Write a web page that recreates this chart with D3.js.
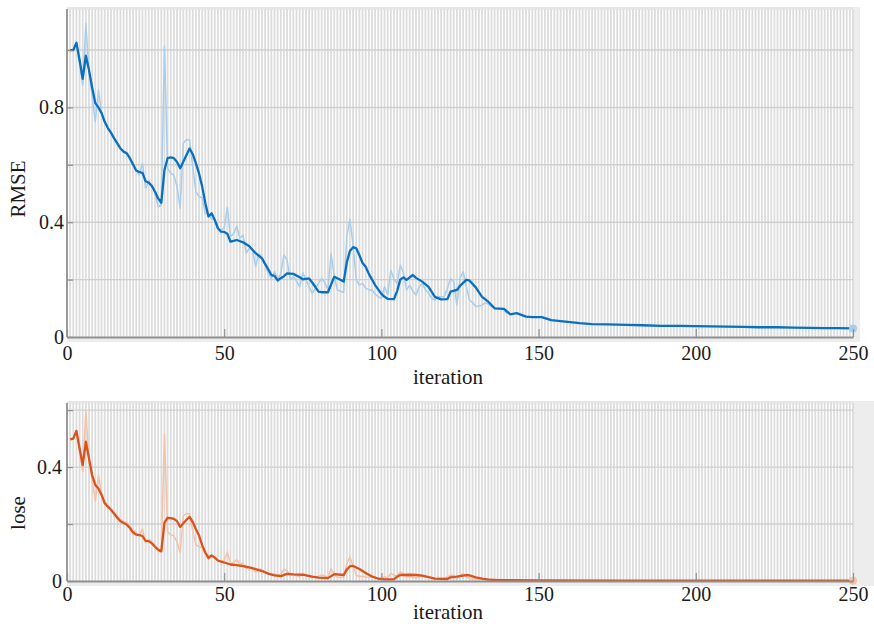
<!DOCTYPE html>
<html>
<head>
<meta charset="utf-8">
<script src="https://cdn.jsdelivr.net/npm/d3@7"></script>
<style>
  body { margin: 0; background: #fff; }
  svg { display: block; }
  svg text { font-family: "Liberation Serif", "Times New Roman", serif !important; }
</style>
</head>
<body>
<svg id="chart" width="874" height="626"></svg>
<script>
// raw values, one per iteration starting at 1
const rmseRaw = [1.00,1.00,1.03,0.95,0.878,1.093,0.92,0.84,0.75,0.86,
  0.78,0.745,0.73,0.71,0.69,0.675,0.657,0.646,0.64,0.62,
  0.60,0.58,0.565,0.605,0.518,0.54,0.525,0.50,0.454,0.46,
  1.014,0.588,0.57,0.564,0.524,0.448,0.675,0.688,0.686,0.593,
  0.506,0.489,0.485,0.431,0.43,0.41,0.41,0.375,0.373,0.38,
  0.452,0.35,0.36,0.387,0.344,0.355,0.292,0.31,0.303,0.245,
  0.29,0.28,0.25,0.222,0.204,0.228,0.20,0.22,0.286,0.268,
  0.201,0.21,0.195,0.175,0.224,0.20,0.175,0.152,0.17,0.187,
  0.204,0.19,0.164,0.292,0.21,0.164,0.16,0.155,0.35,0.41,
  0.32,0.199,0.181,0.187,0.17,0.164,0.164,0.15,0.14,0.135,
  0.175,0.147,0.233,0.20,0.187,0.251,0.224,0.164,0.18,0.16,
  0.146,0.175,0.187,0.165,0.152,0.135,0.129,0.14,0.14,0.14,
  0.17,0.204,0.193,0.111,0.204,0.228,0.178,0.129,0.12,0.106,
  0.108,0.111,0.12,0.115,0.106,0.10,0.099,0.098,0.095,0.08];

const loseRaw = [0.50,0.50,0.53,0.451,0.385,0.597,0.423,0.353,0.281,0.37,
  0.304,0.278,0.266,0.252,0.238,0.228,0.216,0.209,0.205,0.192,
  0.18,0.168,0.16,0.183,0.134,0.146,0.138,0.125,0.103,0.106,
  0.514,0.173,0.162,0.159,0.137,0.10,0.228,0.237,0.235,0.176,
  0.128,0.12,0.118,0.093,0.092,0.084,0.084,0.07,0.07,0.072,
  0.102,0.061,0.065,0.075,0.059,0.063,0.043,0.048,0.046,0.03,
  0.042,0.039,0.031,0.025,0.021,0.026,0.02,0.024,0.041,0.036,
  0.02,0.022,0.019,0.015,0.025,0.02,0.015,0.012,0.014,0.017,
  0.021,0.018,0.013,0.043,0.022,0.013,0.013,0.012,0.061,0.084,
  0.051,0.02,0.016,0.017,0.014,0.013,0.013,0.011,0.01,0.009,
  0.015,0.011,0.027,0.02,0.017,0.032,0.025,0.013,0.016,0.013,
  0.011,0.015,0.017,0.014,0.012,0.009,0.008,0.01,0.01,0.01,
  0.014,0.021,0.019,0.006,0.021,0.026,0.016,0.008,0.007,0.006,
  0.006,0.006,0.007,0.007,0.006,0.005,0.005,0.005,0.005,0.003];

// smoothed curves
const rmseSmoothIter = [1,2,3,4,5,6,7,8,9,10,11,12,13,14,15,16,17,18,19,20,21,22,23,24,25,26,27,28,29,30,
  31,32,33,34,35,36,37,38,39,40,41,42,43,44,45,46,47,48,49,50,51,52,53,54,
  56,58,60,62,63,64,65,66,67,68,69,70,
  72,74,75,77,78,80,81,83,85,86,88,89,90,91,92,93,94,95,96,98,
  100,101,102,104,105,106,107,108,110,111,113,115,117,119,121,122,124,125,127,128,
  130,132,134,136,139,141,143,146,148,151,154,157,163,167,172,178,183,189,195,199,
  205,210,215,220,226,231,236,241,245,250];
const rmseSmooth = [1.00,1.00,1.025,0.965,0.90,0.98,0.93,0.87,0.815,0.80,0.78,0.75,0.728,0.712,0.692,0.675,0.657,0.646,0.64,0.623,
  0.602,0.58,0.575,0.572,0.543,0.538,0.526,0.506,0.483,0.468,0.582,0.623,0.626,0.623,0.61,0.588,0.611,0.634,0.657,0.637,
  0.605,0.57,0.524,0.466,0.42,0.431,0.408,0.379,0.367,0.366,0.36,0.332,0.335,0.338,
  0.33,0.316,0.292,0.274,0.255,0.236,0.216,0.213,0.197,0.205,0.212,0.222,
  0.22,0.208,0.201,0.204,0.19,0.158,0.156,0.156,0.21,0.205,0.193,0.26,0.30,0.313,0.309,0.285,0.258,0.245,0.22,0.181,
  0.15,0.14,0.133,0.132,0.16,0.20,0.208,0.199,0.216,0.206,0.193,0.175,0.14,0.131,0.132,0.158,0.164,0.178,0.199,0.197,
  0.173,0.14,0.123,0.10,0.098,0.079,0.083,0.071,0.069,0.069,0.059,0.055,0.048,0.045,0.044,0.042,0.041,0.039,0.039,0.038,
  0.037,0.036,0.035,0.034,0.034,0.033,0.032,0.031,0.031,0.030];

const loseSmoothIter = [1,2,3,4,5,6,7,8,9,10,11,12,13,14,15,16,17,18,19,20,21,22,23,24,25,26,27,28,29,30,
  31,32,33,34,35,36,37,38,39,40,41,42,43,44,45,46,47,48,49,50,
  52,54,56,58,60,62,64,66,68,70,
  72,75,78,80,83,85,88,89,90,91,
  93,95,97,99,101,104,105,106,109,111,
  113,115,117,121,122,124,127,128,130,132,
  134,137,140,150,175,200,225,250];
const loseSmooth = [0.497,0.50,0.527,0.466,0.407,0.489,0.43,0.372,0.337,0.325,0.302,0.273,0.261,0.25,0.236,0.222,0.21,0.204,0.198,0.186,
  0.17,0.163,0.161,0.158,0.141,0.14,0.132,0.12,0.11,0.104,0.205,0.222,0.221,0.218,0.21,0.19,0.203,0.215,0.225,0.207,
  0.182,0.16,0.125,0.10,0.08,0.09,0.082,0.072,0.068,0.065,
  0.058,0.056,0.052,0.048,0.042,0.035,0.026,0.02,0.017,0.025,
  0.023,0.022,0.015,0.012,0.01,0.024,0.021,0.04,0.052,0.053,
  0.042,0.028,0.016,0.008,0.006,0.006,0.015,0.021,0.022,0.021,
  0.019,0.014,0.008,0.007,0.013,0.015,0.021,0.02,0.013,0.008,
  0.005,0.003,0.003,0.002,0.001,0.001,0.001,0.001];

const xTicks = [0, 50, 100, 150, 200, 250];
const rmseTicks = [0, 0.2, 0.4, 0.6, 0.8, 1.0];
const rmseLabels = [0, 0.4, 0.8];
const loseTicks = [0, 0.2, 0.4, 0.6];
const loseLabels = [0, 0.4];

const FONT = '"Liberation Serif", "Times New Roman", serif';
const svg = d3.select("#chart");
const x = d3.scaleLinear().domain([0, 250]).range([67, 853]);

function panel(opt) {
  const y = d3.scaleLinear().domain([0, opt.yMax]).range([opt.bottom, opt.top]);
  const g = svg.append("g");

  // gray area right of the axes
  g.append("rect")
    .attr("x", x(250)).attr("y", opt.top - 2)
    .attr("width", opt.rightEdge - x(250)).attr("height", opt.bottom - opt.top + 7)
    .attr("fill", "#ededed");

  // shadow strips along top and under the x axis
  g.append("rect")
    .attr("x", x(0)).attr("y", opt.top - 2)
    .attr("width", x(250) - x(0)).attr("height", 2.5)
    .attr("fill", "#e6e6e6");
  g.append("rect")
    .attr("x", x(0)).attr("y", opt.bottom)
    .attr("width", opt.rightEdge - x(0)).attr("height", 5)
    .attr("fill", "#ededed");

  // iteration stripes
  g.append("g").selectAll("line")
    .data(d3.range(1, 251))
    .join("line")
    .attr("x1", d => x(d)).attr("x2", d => x(d))
    .attr("y1", opt.top).attr("y2", opt.bottom)
    .attr("stroke", "#dcdcdc").attr("stroke-width", 1.8);

  // horizontal grid
  g.append("g").selectAll("line")
    .data(opt.ticks.filter(d => d > 0))
    .join("line")
    .attr("x1", x(0)).attr("x2", x(250))
    .attr("y1", d => y(d)).attr("y2", d => y(d))
    .attr("stroke", "#cfcfcf").attr("stroke-width", 1.4);

  // raw (light) series
  const rawLine = d3.line().x((d, i) => x(i + 1)).y(d => y(d));
  g.append("path")
    .datum(opt.raw)
    .attr("d", rawLine)
    .attr("fill", "none")
    .attr("stroke", opt.light)
    .attr("stroke-width", 1.5)
    .attr("stroke-linejoin", "round");

  // smoothed series
  const smoothLine = d3.line().x(d => x(d[0])).y(d => y(d[1]));
  const pts = opt.sIter.map((it, i) => [it, opt.sVal[i]]);
  g.append("path")
    .datum(pts)
    .attr("d", smoothLine)
    .attr("fill", "none")
    .attr("stroke", opt.color)
    .attr("stroke-width", 2.3)
    .attr("stroke-linejoin", "round");

  const last = pts[pts.length - 1];
  g.append("circle")
    .attr("cx", x(last[0])).attr("cy", y(last[1])).attr("r", 4)
    .attr("fill", opt.light);

  // axes
  const yAxis = d3.axisLeft(y)
    .tickValues(opt.ticks)
    .tickSizeInner(-6).tickSizeOuter(0).tickPadding(opt.yPad)
    .tickFormat(d => opt.labels.includes(d) ? d3.format("~g")(d) : "");
  const ya = g.append("g").attr("transform", `translate(${x(0)},0)`).call(yAxis);
  ya.select(".domain").attr("d", `M0,${opt.top}V${opt.bottom}`);

  const xAxis = d3.axisBottom(x)
    .tickValues(xTicks)
    .tickSizeInner(-8).tickSizeOuter(0).tickPadding(opt.xPad)
    .tickFormat(d3.format("d"));
  const xa = g.append("g").attr("transform", `translate(0,${opt.bottom})`).call(xAxis);

  [ya, xa].forEach(a => {
    a.attr("font-family", null);
    a.select(".domain").attr("stroke", "#8f8f8f").attr("stroke-width", 1.8);
    a.selectAll(".tick line").attr("stroke", "#8f8f8f").attr("stroke-width", 1.2);
    a.selectAll("text").attr("fill", "#1a1a1a").attr("font-size", 20)
      .style("font-family", FONT);
  });

  g.append("text")
    .attr("x", 448).attr("y", opt.xLabelY)
    .attr("text-anchor", "middle").attr("font-size", 21).attr("fill", "#1a1a1a")
    .style("font-family", FONT)
    .text("iteration");

  g.append("text")
    .attr("transform", `translate(25,${opt.yLabelY}) rotate(-90)`)
    .attr("text-anchor", "middle").attr("font-size", 21).attr("fill", "#1a1a1a")
    .style("font-family", FONT)
    .text(opt.yLabel);
}

panel({
  top: 9, bottom: 337, yMax: 1.143, rightEdge: 860,
  ticks: rmseTicks, labels: rmseLabels,
  raw: rmseRaw, sIter: rmseSmoothIter, sVal: rmseSmooth,
  color: "#0a6fbf", light: "#a9cdea",
  yPad: 3, xPad: 9, xLabelY: 384, yLabelY: 189, yLabel: "RMSE"
});

panel({
  top: 403, bottom: 581, yMax: 0.625, rightEdge: 874,
  ticks: loseTicks, labels: loseLabels,
  raw: loseRaw, sIter: loseSmoothIter, sVal: loseSmooth,
  color: "#d9531c", light: "#f4c2a8",
  yPad: 5, xPad: 6, xLabelY: 619, yLabelY: 513, yLabel: "lose"
});
</script>
</body>
</html>
